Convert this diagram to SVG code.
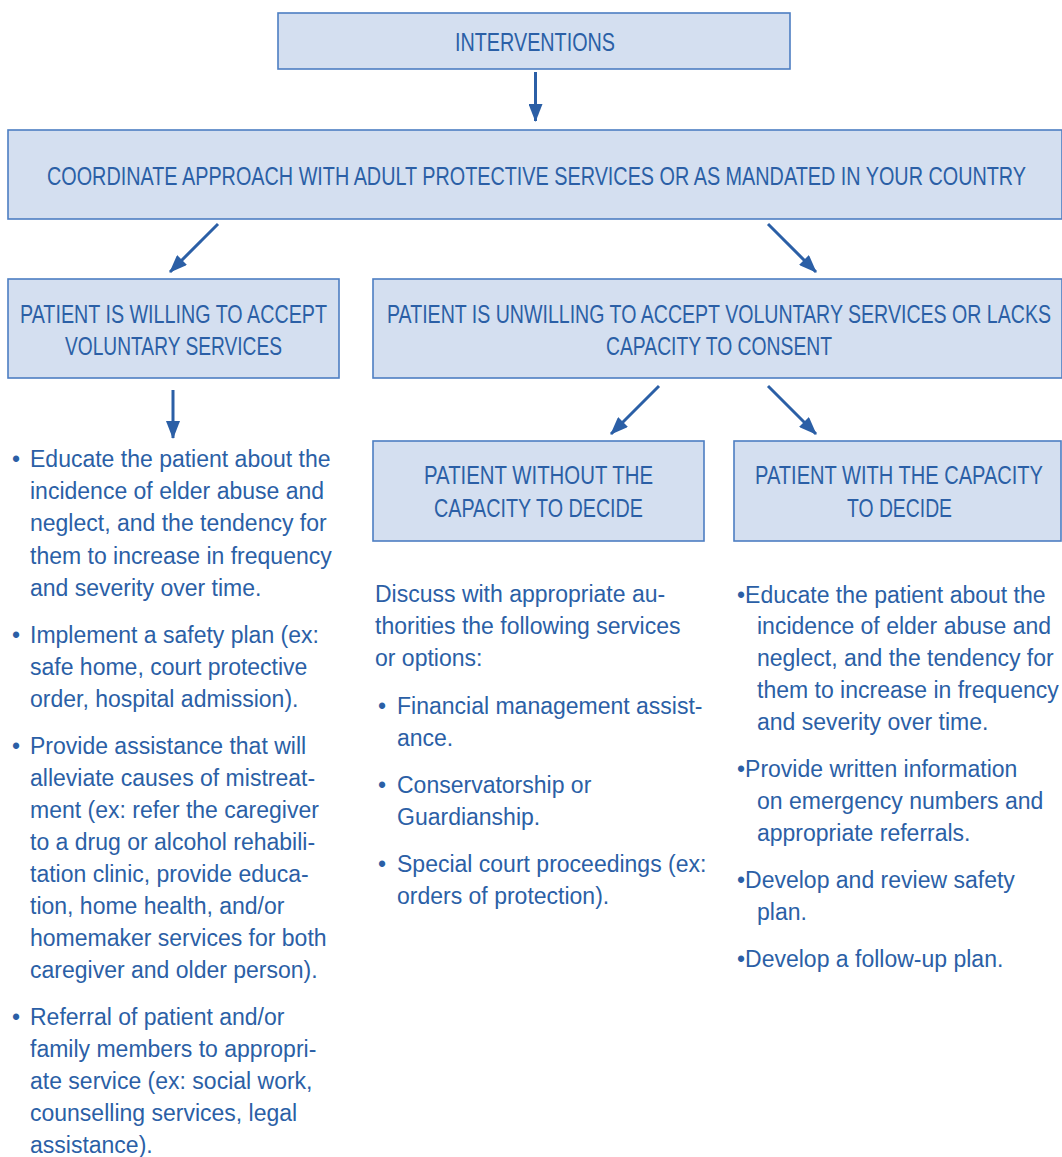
<svg xmlns="http://www.w3.org/2000/svg" width="1062" height="1157" viewBox="0 0 1062 1157">
<style>
.box{fill:#d4dff0;stroke:#4d7ec2;stroke-width:1.6}
.hd{font-family:"Liberation Sans",Arial,sans-serif;font-size:18px;fill:#2b5fa6;text-anchor:middle}
.bd{font-family:"Liberation Sans",Arial,sans-serif;font-size:23px;fill:#2b5fa6}
.arr{stroke:#2b5fa6;stroke-width:3;fill:none;marker-end:url(#ah)}
</style>
<defs>
<marker id="ah" viewBox="0 0 18 14" refX="17" refY="7" markerWidth="18" markerHeight="14" markerUnits="userSpaceOnUse" orient="auto">
<path d="M0,0 L18,7 L0,14 z" fill="#2b5fa6"/>
</marker>
</defs>
<rect width="1062" height="1157" fill="#ffffff"/>

<g id="connectors">
<line class="arr" x1="535.5" y1="72" x2="535.5" y2="121"/>
<line class="arr" x1="218" y1="224" x2="170" y2="272"/>
<line class="arr" x1="768" y1="224" x2="816" y2="272"/>
<line class="arr" x1="173" y1="390" x2="173" y2="438"/>
<line class="arr" x1="659" y1="386" x2="611" y2="434"/>
<line class="arr" x1="768" y1="386" x2="816" y2="434"/>
</g>

<g id="interventions">
<rect class="box" x="278" y="13" width="512" height="56"/>
<text class="hd" transform="translate(535,51) scale(1,1.44)" textLength="160" lengthAdjust="spacingAndGlyphs">INTERVENTIONS</text>
</g>

<g id="coordinate">
<rect class="box" x="8" y="130" width="1054" height="89"/>
<text class="hd" transform="translate(536.5,185) scale(1,1.44)" textLength="979" lengthAdjust="spacingAndGlyphs">COORDINATE APPROACH WITH ADULT PROTECTIVE SERVICES OR AS MANDATED IN YOUR COUNTRY</text>
</g>

<g id="willing">
<rect class="box" x="8" y="279" width="331" height="99"/>
<text class="hd" transform="translate(173.5,323) scale(1,1.44)" textLength="307" lengthAdjust="spacingAndGlyphs">PATIENT IS WILLING TO ACCEPT</text>
<text class="hd" transform="translate(173.5,355) scale(1,1.44)" textLength="217" lengthAdjust="spacingAndGlyphs">VOLUNTARY SERVICES</text>
</g>

<g id="unwilling">
<rect class="box" x="373" y="279" width="689" height="99"/>
<text class="hd" transform="translate(719,323) scale(1,1.44)" textLength="664" lengthAdjust="spacingAndGlyphs">PATIENT IS UNWILLING TO ACCEPT VOLUNTARY SERVICES OR LACKS</text>
<text class="hd" transform="translate(719,355) scale(1,1.44)" textLength="226" lengthAdjust="spacingAndGlyphs">CAPACITY TO CONSENT</text>
</g>

<g id="without">
<rect class="box" x="373" y="441" width="331" height="100"/>
<text class="hd" transform="translate(538.5,484) scale(1,1.44)" textLength="229" lengthAdjust="spacingAndGlyphs">PATIENT WITHOUT THE</text>
<text class="hd" transform="translate(538.5,517) scale(1,1.44)" textLength="209" lengthAdjust="spacingAndGlyphs">CAPACITY TO DECIDE</text>
</g>

<g id="with">
<rect class="box" x="734" y="441" width="327" height="100"/>
<text class="hd" transform="translate(899,484) scale(1,1.44)" textLength="288" lengthAdjust="spacingAndGlyphs">PATIENT WITH THE CAPACITY</text>
<text class="hd" transform="translate(899.5,517) scale(1,1.44)" textLength="105" lengthAdjust="spacingAndGlyphs">TO DECIDE</text>
</g>

<g id="willing-list">
<text class="bd">
<tspan x="12" y="467">•</tspan><tspan x="30" y="467">Educate the patient about the</tspan>
<tspan x="30" y="499">incidence of elder abuse and</tspan>
<tspan x="30" y="531">neglect, and the tendency for</tspan>
<tspan x="30" y="564">them to increase in frequency</tspan>
<tspan x="30" y="596">and severity over time.</tspan>
<tspan x="12" y="643">•</tspan><tspan x="30" y="643">Implement a safety plan (ex:</tspan>
<tspan x="30" y="675">safe home, court protective</tspan>
<tspan x="30" y="707">order, hospital admission).</tspan>
<tspan x="12" y="754">•</tspan><tspan x="30" y="754">Provide assistance that will</tspan>
<tspan x="30" y="786">alleviate causes of mistreat-</tspan>
<tspan x="30" y="818">ment (ex: refer the caregiver</tspan>
<tspan x="30" y="850">to a drug or alcohol rehabili-</tspan>
<tspan x="30" y="882">tation clinic, provide educa-</tspan>
<tspan x="30" y="914">tion, home health, and/or</tspan>
<tspan x="30" y="946">homemaker services for both</tspan>
<tspan x="30" y="978">caregiver and older person).</tspan>
<tspan x="12" y="1025">•</tspan><tspan x="30" y="1025">Referral of patient and/or</tspan>
<tspan x="30" y="1057">family members to appropri-</tspan>
<tspan x="30" y="1089">ate service (ex: social work,</tspan>
<tspan x="30" y="1121">counselling services, legal</tspan>
<tspan x="30" y="1153">assistance).</tspan>
</text>
</g>

<g id="without-list">
<text class="bd">
<tspan x="375" y="602">Discuss with appropriate au-</tspan>
<tspan x="375" y="634">thorities the following services</tspan>
<tspan x="375" y="666">or options:</tspan>
<tspan x="378" y="714">•</tspan><tspan x="397" y="714">Financial management assist-</tspan>
<tspan x="397" y="746">ance.</tspan>
<tspan x="378" y="793">•</tspan><tspan x="397" y="793">Conservatorship or</tspan>
<tspan x="397" y="825">Guardianship.</tspan>
<tspan x="378" y="872">•</tspan><tspan x="397" y="872">Special court proceedings (ex:</tspan>
<tspan x="397" y="904">orders of protection).</tspan>
</text>
</g>

<g id="with-list">
<text class="bd">
<tspan x="737" y="603">•Educate the patient about the</tspan>
<tspan x="757" y="634">incidence of elder abuse and</tspan>
<tspan x="757" y="666">neglect, and the tendency for</tspan>
<tspan x="757" y="698">them to increase in frequency</tspan>
<tspan x="757" y="730">and severity over time.</tspan>
<tspan x="737" y="777">•Provide written information</tspan>
<tspan x="757" y="809">on emergency numbers and</tspan>
<tspan x="757" y="841">appropriate referrals.</tspan>
<tspan x="737" y="888">•Develop and review safety</tspan>
<tspan x="757" y="920">plan.</tspan>
<tspan x="737" y="967">•Develop a follow-up plan.</tspan>
</text>
</g>
</svg>
